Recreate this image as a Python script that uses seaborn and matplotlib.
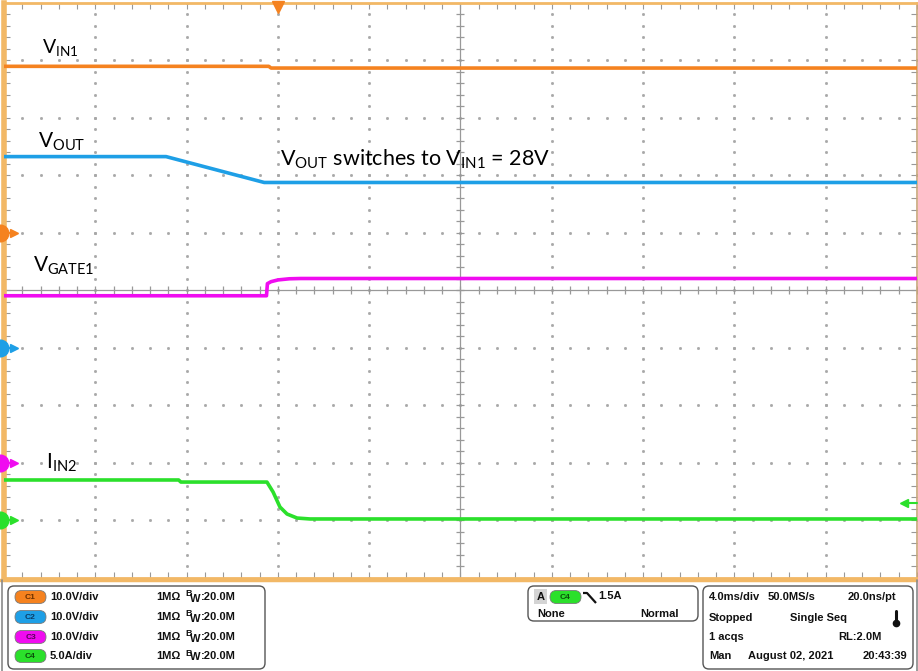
import numpy as np
import pandas as pd
import matplotlib
matplotlib.use("Agg")
import matplotlib.pyplot as plt
from matplotlib.patches import FancyBboxPatch, Rectangle
import seaborn as sns

# time axis in ms: 4 ms/div, 10 div, trigger 3 div from the left
T_MIN, T_MAX = -12.0, 28.0

# C1: V_IN1 (V)
vin1_t = [-12.0, -0.40, -0.30, 28.0]
vin1_v = [28.9, 28.9, 28.6, 28.6]

# C2: V_OUT (V)
vout_t = [-12.0, -4.9, -0.6, 28.0]
vout_v = [33.2, 33.2, 28.7, 28.7]

# C3: V_GATE1 (V)
vgate_t = [-12.0, -0.50, -0.46, -0.30, 0.0, 0.5, 1.0, 28.0]
vgate_v = [29.0, 29.0, 31.1, 31.45, 31.75, 31.95, 32.0, 32.0]

# C4: I_IN2 (A)
iin2_t = [-12.0, -4.35, -4.25, -0.48, -0.21, 0.09, 0.40, 0.84, 1.41, 28.0]
iin2_a = [3.48, 3.48, 3.30, 3.30, 2.43, 1.13, 0.52, 0.17, 0.09, 0.09]

channels = ["C1", "C2", "C3", "C4"]
scales = [10.0, 10.0, 10.0, 5.0]      # units per division
grounds = [1.0, -1.0, -3.0, -4.0]     # ground marker position (div)
colors = ["#F5821F", "#1E9FE6", "#F00CF0", "#2BE02B"]
chip_text = ["#6B3000", "#0B3C66", "#5A005A", "#0B500B"]
scale_labels = ["10.0V/div", "10.0V/div", "10.0V/div", "5.0A/div"]
trig_level = 1.5  # A on C4

TAN = "#F2B866"
GRIDC = "#A8A8A8"

sns.set_theme(style="white")
plt.rcParams["font.family"] = ["Lato", "DejaVu Sans"]
plt.rcParams["mathtext.fontset"] = "custom"
plt.rcParams["mathtext.rm"] = "Lato"
plt.rcParams["mathtext.it"] = "Lato:italic"
plt.rcParams["mathtext.bf"] = "Lato:bold"

# build the trace table (in divisions on screen)
rows = []
for ch, ts, vs in zip(channels, [vin1_t, vout_t, vgate_t, iin2_t],
                      [vin1_v, vout_v, vgate_v, iin2_a]):
    i = channels.index(ch)
    for t, v in zip(ts, vs):
        rows.append({"ch": ch, "t": t, "div": grounds[i] + v / scales[i]})
df = pd.DataFrame(rows)

fig = plt.figure(figsize=(9.18, 6.71), dpi=100)
fig.patch.set_facecolor("white")
ax = fig.add_axes([4 / 918, 93.5 / 671, 913 / 918, 575 / 671])
ax.set_xlim(T_MIN, T_MAX)
ax.set_ylim(-5, 5)

# graticule: dotted lines, center cross with ticks
for k in range(1, 10):
    t = T_MIN + 4 * k
    if k == 5:
        continue
    yy = np.arange(-5, 5.01, 0.2)
    ax.plot(np.full_like(yy, t), yy, ls="none", marker="s", ms=1.0, color=GRIDC, zorder=1)
for j in range(-4, 5):
    if j == 0:
        continue
    xx = np.arange(T_MIN, T_MAX + 0.01, 0.8)
    ax.plot(xx, np.full_like(xx, j), ls="none", marker="s", ms=1.0, color=GRIDC, zorder=1)
ax.axhline(0, color="#999999", lw=0.9, zorder=1)
ax.axvline(8, color="#999999", lw=0.9, zorder=1)
xx = np.arange(T_MIN, T_MAX + 0.01, 0.8)
ax.plot(xx, np.zeros_like(xx), ls="none", marker="|", ms=6, mew=0.9, color="#999999", zorder=1)
yy = np.arange(-5, 5.01, 0.2)
ax.plot(np.full_like(yy, 8), yy, ls="none", marker="_", ms=6, mew=0.9, color="#999999", zorder=1)

ax.set_xticks(np.arange(T_MIN, T_MAX + 0.01, 0.8))
ax.set_yticks(np.arange(-5, 5.01, 0.2))
ax.tick_params(direction="in", length=4.5, width=0.8, color="#999999",
               top=True, right=True, bottom=True, left=True,
               labelbottom=False, labelleft=False)
for side, lw, c in [("left", 4, TAN), ("top", 2, TAN), ("right", 1.2, "#C9A67A"), ("bottom", 2, TAN)]:
    ax.spines[side].set_visible(True)
    ax.spines[side].set_color(c)
    ax.spines[side].set_linewidth(lw)

sns.lineplot(data=df, x="t", y="div", hue="ch", palette=dict(zip(channels, colors)),
             estimator=None, sort=False, linewidth=2.6, legend=False, ax=ax, zorder=3)
ax.set_xlabel("")
ax.set_ylabel("")

# ground markers on the left edge
for g, c in zip(grounds, colors):
    ax.plot([-12.2, -11.55], [g, g], color=c, lw=1.5, clip_on=False, zorder=5)
    ax.plot(-11.55, g, marker=">", ms=6, color=c, clip_on=False, zorder=5)
    ax.plot(-12.19, g, marker="o", ms=12, color=c, clip_on=False, zorder=6)
# trigger position and level
ax.plot(0, 4.93, marker="v", ms=8, color=colors[0], clip_on=False, zorder=6)
tl = grounds[3] + trig_level / scales[3]
ax.plot([27.4, 28.0], [tl, tl], color=colors[3], lw=1.5, clip_on=False, zorder=5)
ax.plot(27.45, tl, marker="<", ms=6, color=colors[3], clip_on=False, zorder=5)

# overlay in pixel coordinates for labels and the status panel
ov = fig.add_axes([0, 0, 1, 1], zorder=10)
ov.set_xlim(0, 918)
ov.set_ylim(671, 0)
ov.axis("off")
ov.patch.set_alpha(0)

ov.text(42, 53, r"V$_{\mathrm{IN1}}$", fontsize=14, va="baseline", color="black")
ov.text(38, 148, r"V$_{\mathrm{OUT}}$", fontsize=15, va="baseline", color="black")
ov.text(33, 272, r"V$_{\mathrm{GATE1}}$", fontsize=15, va="baseline", color="black")
ov.text(46, 469, r"I$_{\mathrm{IN2}}$", fontsize=15, va="baseline", color="black")
ov.text(280, 166, r"V$_{\mathrm{OUT}}$ switches to V$_{\mathrm{IN1}}$ = 28V",
        fontsize=15.5, va="baseline", color="black")

# status panel
ov.add_patch(Rectangle((0, 580), 918, 91, facecolor="white", edgecolor="none", zorder=0))
ov.plot([0, 918], [580, 580], color=TAN, lw=2.5)
ov.plot([1.5, 1.5], [580, 671], color="#8A8A8A", lw=1.2)
ov.plot([916.5, 916.5], [580, 671], color="#8A8A8A", lw=1.2)

PF = dict(family=["Liberation Sans", "DejaVu Sans"], fontweight="bold", fontsize=8, color="#111111", va="center")


def box(x0, y0, x1, y1):
    ov.add_patch(FancyBboxPatch((x0, y0), x1 - x0, y1 - y0,
                                boxstyle="round,pad=0,rounding_size=6",
                                facecolor="white", edgecolor="#555555", lw=1.0))


def chip(x, y, label, c, tc):
    ov.add_patch(FancyBboxPatch((x, y - 6.5), 31, 13,
                                boxstyle="round,pad=0,rounding_size=6.5",
                                facecolor=c, edgecolor="#7A7A7A", lw=0.6))
    ov.text(x + 15.5, y + 0.5, label, ha="center", va="center", fontsize=6,
            family=["Liberation Sans"], fontweight="bold", color=tc)


box(8, 586, 265, 669)
row_y = [597, 617, 637, 656]
for i in range(4):
    y = row_y[i]
    chip(15, y, channels[i], colors[i], chip_text[i])
    ov.text(50, y, scale_labels[i], **PF)
    ov.text(156, y, "1MΩ", **PF)
    ov.text(185, y - 3, "B", **{**PF, "fontsize": 6.5})
    ov.text(190, y + 1.5, "W", **PF)
    ov.text(201, y, ":20.0M", **PF)

box(528, 586, 698, 621)
ov.add_patch(Rectangle((534, 589), 13, 15, facecolor="#D4D4D4", edgecolor="none"))
ov.text(540.5, 597, "A", ha="center", **{k: v for k, v in PF.items() if k != "va"}, va="center")
chip(550, 597, "C4", colors[3], chip_text[3])
ov.plot([583, 587, 596], [593, 593, 603], color="#111111", lw=1.6, solid_capstyle="butt")
ov.text(598, 596, "1.5A", **PF)
ov.text(537, 614, "None", **PF)
ov.text(679, 614, "Normal", ha="right", **{k: v for k, v in PF.items()})

box(703, 586, 913, 669)
ov.text(709, 597, "4.0ms/div", **PF)
ov.text(768, 597, "50.0MS/s", **PF)
ov.text(896, 597, "20.0ns/pt", ha="right", **PF)
ov.text(709, 618, "Stopped", **PF)
ov.text(790, 618, "Single Seq", **PF)
ov.plot([896, 896], [611, 623], color="#111111", lw=2.2)
ov.plot(896, 623, marker="o", ms=4.5, color="#111111")
ov.text(709, 637, "1 acqs", **PF)
ov.text(882, 637, "RL:2.0M", ha="right", **PF)
ov.text(709, 656, "Man", **PF)
ov.text(748, 656, "August 02, 2021", **PF)
ov.text(907, 656, "20:43:39", ha="right", **PF)

fig.savefig("out.png", dpi=100, facecolor="white")
